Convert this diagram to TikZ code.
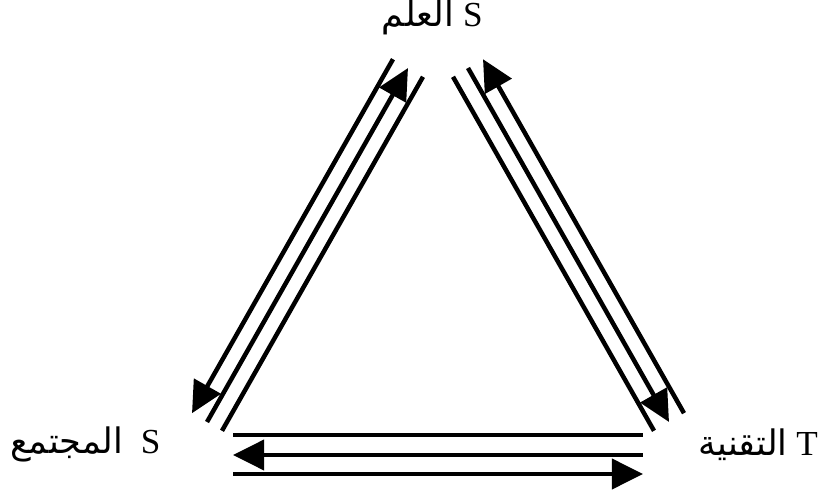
\documentclass[tikz,border=0pt]{standalone}
\usepackage{fontspec}
\setmainfont{Liberation Serif}
\newfontfamily\arabicfont[Script=Arabic]{DejaVu Sans}
\TeXXeTstate=1
\usetikzlibrary{arrows.meta,calc}
\definecolor{ink}{HTML}{000000}
\tikzset{
  % ---- corner labels ---------------------------------------------
  vlab/.style       = {inner sep=0pt, text=ink,
                       font=\fontsize{25}{30}\selectfont},
  % ---- parallel lanes --------------------------------------------
  lane/.style       = {draw=ink, line width=3.2pt},
  fwd/.style        = {lane, -{Triangle[length=7.8mm, width=7.5mm]}},
  bwd/.style        = {lane, {Triangle[length=7.8mm, width=7.5mm]}-},
}

\begin{document}
\begin{tikzpicture}
\useasboundingbox (0,0) rectangle (20.5,12.325);
% labels at the three corners
\node[vlab, anchor=base east] (sci)  at (12.075, 11.65) {{\arabicfont\beginR العلم\endR}\ S};
\node[vlab, anchor=base west] (soc)  at (0.25, 1.00)   {{\arabicfont\beginR المجتمع\endR}\ \ S};
\node[vlab, anchor=base east] (tech) at (20.45, 0.95)  {{\arabicfont\beginR التقنية\endR}\ T};
% ends of the middle lanes
\coordinate (sciL)  at (10.20, 10.625);
\coordinate (socL)  at (5.175, 1.775);
\coordinate (sciR)  at (11.70, 10.625);
\coordinate (techR) at (16.725, 1.775);
\coordinate (socB)  at (5.825, 0.95);
\coordinate (techB) at (16.075, 0.95);
% science -- society
\draw[fwd]  ([shift={(-0.375, 0.22)}]sciL) -- ([shift={(-0.375, 0.22)}]socL);
\draw[bwd]  (sciL) -- (socL);
\draw[lane] ([shift={(0.375,-0.22)}]sciL) -- ([shift={(0.375,-0.22)}]socL);
% science -- technology
\draw[bwd]  ([shift={(0.375, 0.22)}]sciR) -- ([shift={(0.375, 0.22)}]techR);
\draw[fwd]  (sciR) -- (techR);
\draw[lane] ([shift={(-0.375,-0.22)}]sciR) -- ([shift={(-0.375,-0.22)}]techR);
% society -- technology
\draw[lane] ([yshift=0.5cm]socB) -- ([yshift=0.5cm]techB);
\draw[bwd]  (socB) -- (techB);
\draw[fwd]  ([yshift=-0.475cm]socB) -- ([yshift=-0.475cm]techB);
\end{tikzpicture}
\end{document}
